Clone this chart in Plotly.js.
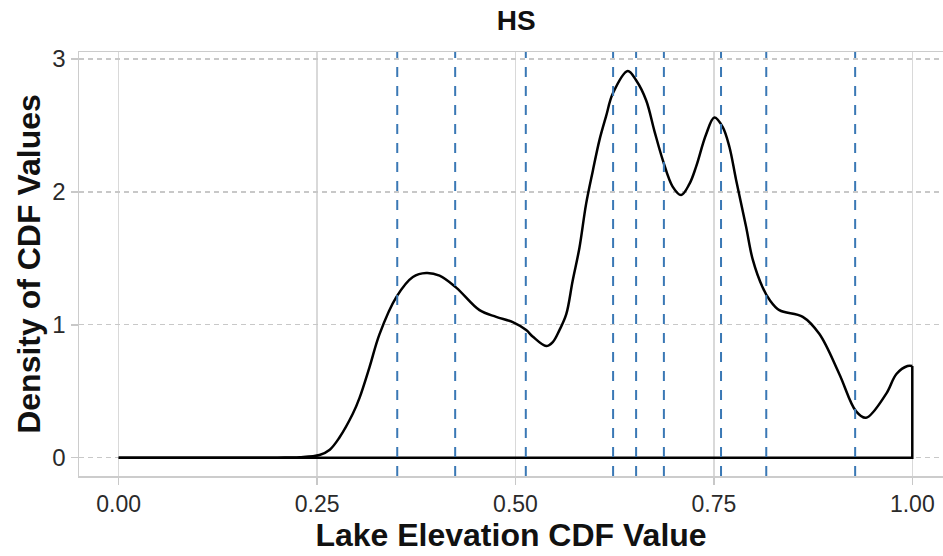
<!DOCTYPE html>
<html>
<head>
<meta charset="utf-8">
<script src="https://cdn.plot.ly/plotly-3.0.1.min.js"></script>
<style>html,body{margin:0;padding:0;background:#fff;}#chart{width:943px;height:556px;}</style>
</head>
<body>
<div id="chart"></div>
<script>
// Density curve of CDF values
const cdfX = [0, 0.10, 0.20, 0.228, 0.253, 0.266, 0.278, 0.295, 0.3035, 0.316, 0.3287, 0.35, 0.3707, 0.3875, 0.4043, 0.4253, 0.4547, 0.4757, 0.4966, 0.5135, 0.522, 0.5387, 0.547, 0.5554, 0.564, 0.572, 0.5806, 0.589, 0.5975, 0.6058, 0.6142, 0.6226, 0.6415, 0.652, 0.6646, 0.675, 0.6856, 0.698, 0.7087, 0.7192, 0.7276, 0.740, 0.7506, 0.761, 0.7695, 0.778, 0.7905, 0.799, 0.8115, 0.8199, 0.8325, 0.862, 0.883, 0.908, 0.929, 0.9416, 0.967, 0.980, 0.994, 1.0];
const density = [0, 0, 0, 0.003, 0.02, 0.06, 0.15, 0.33, 0.45, 0.68, 0.93, 1.21, 1.36, 1.39, 1.37, 1.28, 1.11, 1.06, 1.02, 0.96, 0.91, 0.84, 0.87, 0.96, 1.08, 1.33, 1.58, 1.91, 2.16, 2.39, 2.57, 2.74, 2.91, 2.84, 2.69, 2.46, 2.24, 2.04, 1.976, 2.06, 2.19, 2.43, 2.56, 2.49, 2.34, 2.09, 1.74, 1.49, 1.28, 1.19, 1.11, 1.06, 0.93, 0.63, 0.35, 0.30, 0.48, 0.63, 0.69, 0.69];
// Vertical reference lines
const refLines = [0.351, 0.424, 0.513, 0.623, 0.652, 0.687, 0.759, 0.816, 0.928];
// Tick labels
const xTickVals = [0, 0.25, 0.5, 0.75, 1];
const xTickText = ["0.00", "0.25", "0.50", "0.75", "1.00"];
const yTickVals = [0, 1, 2, 3];
const yTickText = ["0", "1", "2", "3"];

const n = cdfX.length;
const traces = [
  {
    x: cdfX, y: density, type: 'scatter', mode: 'lines',
    line: {color: '#000', width: 2.5, shape: 'spline', smoothing: 1.0},
    hoverinfo: 'skip', showlegend: false
  },
  {
    // closing outline of the density polygon: down at the right end, back along zero
    x: [cdfX[n-1], cdfX[n-1], cdfX[0]],
    y: [density[n-1], 0, 0],
    type: 'scatter', mode: 'lines',
    line: {color: '#000', width: 2.5},
    hoverinfo: 'skip', showlegend: false
  }
];

const shapes = refLines.map(v => ({
  type: 'line', xref: 'x', yref: 'paper', x0: v, x1: v, y0: 0, y1: 1,
  line: {color: '#3a78b5', width: 2, dash: '10px,9px'}, layer: 'above'
}));

const layout = {
  width: 943, height: 556,
  margin: {l: 79, r: 0, t: 52, b: 80},
  paper_bgcolor: '#fff', plot_bgcolor: '#fff',
  font: {family: 'Liberation Sans, Arial, sans-serif', color: '#222'},
  title: {
    text: '<b>HS</b>', font: {size: 28, color: '#111'},
    xref: 'paper', x: 0.506, xanchor: 'center',
    yref: 'container', y: 0.964, yanchor: 'middle'
  },
  xaxis: {
    range: [-0.05, 1.0387], tickvals: xTickVals, ticktext: xTickText,
    tickfont: {size: 23, color: '#2a2a2a'},
    ticks: 'outside', ticklen: 7, tickcolor: '#c8c8c8', tickwidth: 1.5,
    showgrid: true, gridcolor: '#d9d9d9', gridwidth: 1.5,
    zeroline: false,
    showline: true, linecolor: '#cccccc', linewidth: 1.5, mirror: true,
    title: {text: '<b>Lake Elevation CDF Value</b>', font: {size: 32, color: '#111'}, standoff: 6},
    fixedrange: true
  },
  yaxis: {
    range: [-0.138, 3.053], tickvals: yTickVals, ticktext: yTickText,
    tickfont: {size: 24, color: '#2a2a2a'},
    ticks: 'outside', ticklen: 7, tickcolor: '#c8c8c8', tickwidth: 1.5,
    showgrid: true, gridcolor: '#c8c8c8', gridwidth: 1.2, griddash: '5px,4px',
    zeroline: false,
    showline: true, linecolor: '#cccccc', linewidth: 1.5, mirror: false,
    title: {text: '<b>Density of CDF Values</b>', font: {size: 32, color: '#111'}, standoff: 2},
    fixedrange: true
  },
  shapes: shapes,
  showlegend: false
};

Plotly.newPlot('chart', traces, layout, {displayModeBar: false, staticPlot: true});
</script>
</body>
</html>
